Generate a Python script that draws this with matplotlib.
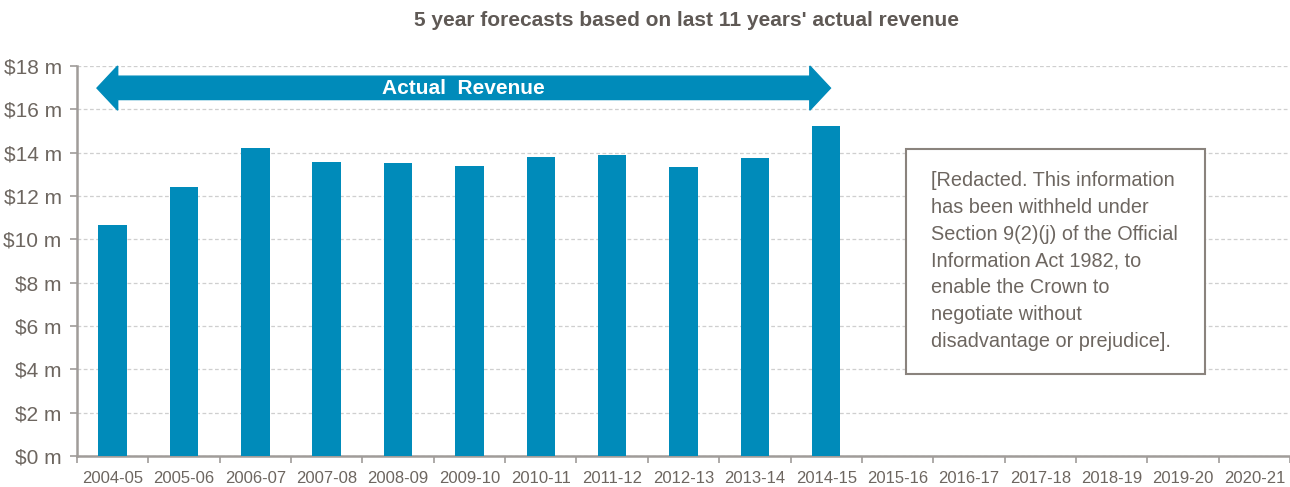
import matplotlib.pyplot as plt
from matplotlib.patches import Polygon, Rectangle

plt.rcParams['font.family'] = ['Liberation Sans', 'DejaVu Sans']

years = ['2004-05', '2005-06', '2006-07', '2007-08', '2008-09', '2009-10',
         '2010-11', '2011-12', '2012-13', '2013-14', '2014-15', '2015-16',
         '2016-17', '2017-18', '2018-19', '2019-20', '2020-21']
revenue = [10.65, 12.4, 14.22, 13.56, 13.5, 13.38, 13.8, 13.88, 13.33, 13.76, 15.23]
y_ticks = [0, 2, 4, 6, 8, 10, 12, 14, 16, 18]

blue = '#008bba'
txt = '#6d6660'
axc = '#a09c99'

fig = plt.figure(figsize=(12.9, 4.87), dpi=100)
ax = fig.add_axes([0.0597, 0.0637, 0.9403, 0.8008])

x = list(range(len(years)))
ax.bar(x[:len(revenue)], revenue, width=0.4, color=blue, zorder=3)

ax.set_xlim(-0.5, len(years) - 0.5)
ax.set_ylim(0, 18)
ax.set_yticks(y_ticks)
ax.set_yticklabels([f'${v} m' for v in y_ticks], fontsize=15, color=txt)
ax.set_xticks(x)
ax.set_xticklabels(years, fontsize=12, color=txt)
ax.tick_params(axis='x', length=0, pad=11)
ax.set_xticks([i - 0.5 for i in x] + [len(years) - 0.5], minor=True)
ax.tick_params(axis='x', which='minor', length=5, width=1.2, color=axc)
ax.tick_params(axis='y', length=5, width=1.2, color=axc, pad=6)

ax.grid(axis='y', linestyle=(0, (3, 2)), color='#cfcfcf', lw=0.9, zorder=0)
for s in ['top', 'right']:
    ax.spines[s].set_visible(False)
for s in ['left', 'bottom']:
    ax.spines[s].set_color(axc)
    ax.spines[s].set_linewidth(1.8)

# double-headed arrow over the actual years
x0, x1 = -0.22, 10.06
hl = 0.29
arrow = Polygon([(x0, 16.98), (x0 + hl, 18.0), (x0 + hl, 17.53), (x1 - hl, 17.53),
                 (x1 - hl, 18.0), (x1, 16.98), (x1 - hl, 15.96), (x1 - hl, 16.45),
                 (x0 + hl, 16.45), (x0 + hl, 15.96)],
                closed=True, color=blue, zorder=4, clip_on=False)
ax.add_patch(arrow)
ax.text((x0 + x1) / 2, 16.98, 'Actual  Revenue', color='white', fontsize=15,
        fontweight='bold', ha='center', va='center', zorder=5)

fig.patches.append(Rectangle((0.7023, 0.232), 0.2318, 0.462, transform=fig.transFigure,
                             facecolor='white', edgecolor='#8a837d', lw=1.5, zorder=6))
fig.text(0.7217, 0.649,
         '[Redacted. This information\nhas been withheld under\nSection 9(2)(j) of the Official\n'
         'Information Act 1982, to\nenable the Crown to\nnegotiate without\ndisadvantage or prejudice].',
         fontsize=14.3, color=txt, va='top', ha='left', linespacing=1.52, zorder=7)

fig.text(0.532, 0.958, "5 year forecasts based on last 11 years' actual revenue",
         fontsize=15, fontweight='bold', color='#5f5955', ha='center', va='center')

fig.savefig('out.png', dpi=100)
